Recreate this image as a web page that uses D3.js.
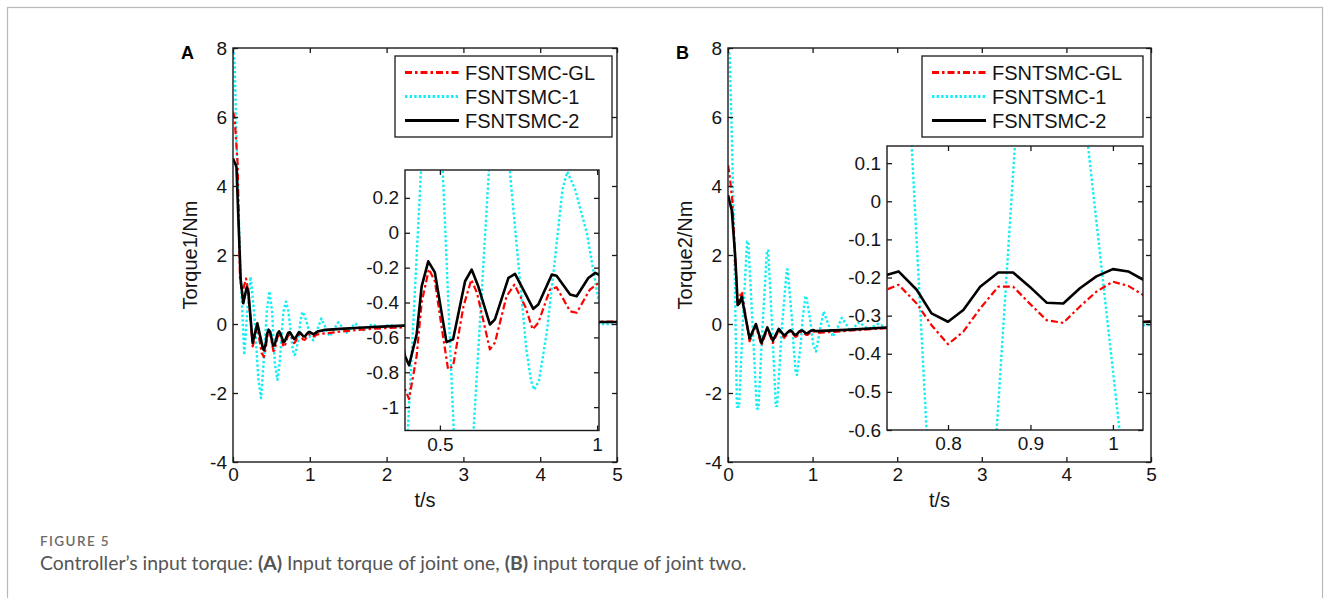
<!DOCTYPE html>
<html>
<head>
<meta charset="utf-8">
<script src="https://cdn.jsdelivr.net/npm/d3@7"></script>
<style>
  body { margin: 0; background: #fff; }
  svg { display: block; }
  text { font-family: "Liberation Sans", Arial, Helvetica, sans-serif; }
  text.caption { font-family: Lato, "Open Sans", sans-serif; }
</style>
</head>
<body>
<script>
// ---- Joint one: controller input torque (Nm) against time (s) ----
const tA_GL = [0, 0.02, 0.06, 0.09, 0.12, 0.17, 0.20, 0.256, 0.317, 0.374, 0.389, 0.402, 0.426, 0.442, 0.465, 0.484, 0.505, 0.526, 0.542, 0.575, 0.60, 0.618, 0.659, 0.675, 0.712, 0.737, 0.771, 0.795, 0.813, 0.85, 0.871, 0.914, 0.935, 0.977, 1.005, 1.05, 1.1, 1.2, 1.5, 1.8, 2.2, 3, 4, 4.8, 5];
const qA_GL = [6.15, 6.0, 4.67, 1.37, 0.9, 1.32, 0.9, -0.65, -0.1, -0.85, -0.897, -0.954, -0.707, -0.4, -0.208, -0.278, -0.535, -0.783, -0.764, -0.421, -0.269, -0.345, -0.669, -0.63, -0.364, -0.297, -0.421, -0.554, -0.516, -0.326, -0.312, -0.45, -0.459, -0.326, -0.288, -0.36, -0.3, -0.27, -0.2, -0.14, -0.1, -0.02, 0.04, 0.07, 0.07];

const tA_1 = [0, 0.02, 0.06, 0.10, 0.147, 0.19, 0.23, 0.28, 0.33, 0.365, 0.398, 0.44, 0.474, 0.509, 0.544, 0.578, 0.607, 0.656, 0.69, 0.722, 0.775, 0.79, 0.80, 0.815, 0.84, 0.866, 0.89, 0.905, 0.93, 0.967, 1.005, 1.047, 1.10, 1.15, 1.26, 1.37, 1.48, 1.59, 1.70, 1.81, 1.92, 2.03, 2.14, 2.3, 3, 4, 4.8, 5];
const qA_1 = [8.0, 7.6, 4.2, 1.4, -0.9, 0.5, 1.37, 0.2, -1.6, -2.15, -1.134, 0.36, 0.95, 0.36, -1.134, -1.62, -1.134, 0.36, 0.65, 0.36, -0.67, -0.85, -0.9, -0.85, -0.57, -0.15, 0.25, 0.35, 0.25, 0.0, -0.39, -0.47, -0.15, 0.16, -0.36, 0.05, -0.25, 0.02, -0.18, 0.0, -0.12, -0.02, -0.08, -0.04, 0.0, 0.0, 0.0, 0.0];

const tA_2 = [0, 0.045, 0.10, 0.134, 0.178, 0.20, 0.256, 0.317, 0.389, 0.402, 0.426, 0.442, 0.463, 0.484, 0.521, 0.542, 0.580, 0.601, 0.622, 0.659, 0.675, 0.718, 0.739, 0.797, 0.813, 0.856, 0.871, 0.914, 0.935, 0.972, 0.994, 1.005, 1.05, 1.10, 1.2, 1.4, 1.7, 2.0, 2.3, 3, 4, 4.8, 5];
const qA_2 = [4.8, 4.56, 1.28, 0.6, 1.06, 0.94, -0.55, 0.02, -0.707, -0.76, -0.583, -0.307, -0.164, -0.227, -0.627, -0.611, -0.278, -0.211, -0.307, -0.526, -0.497, -0.259, -0.236, -0.436, -0.411, -0.24, -0.246, -0.354, -0.364, -0.259, -0.23, -0.24, -0.3, -0.22, -0.17, -0.14, -0.1, -0.07, -0.04, 0.0, 0.04, 0.06, 0.06];

// ---- Joint two ----
const tB_GL = [0, 0.02, 0.05, 0.083, 0.10, 0.115, 0.13, 0.155, 0.165, 0.255, 0.33, 0.395, 0.465, 0.53, 0.60, 0.665, 0.7264, 0.740, 0.762, 0.780, 0.800, 0.8186, 0.839, 0.861, 0.879, 0.899, 0.9196, 0.9398, 0.96, 0.980, 1.0, 1.0186, 1.037, 1.1, 1.4, 1.88, 3, 4.9, 5];
const qB_GL = [4.6, 4.3, 3.6, 2.0, 1.2, 0.55, 0.6, 0.94, 0.9, -0.5, -0.05, -0.62, -0.15, -0.55, -0.18, -0.4, -0.231, -0.219, -0.268, -0.325, -0.375, -0.342, -0.281, -0.224, -0.224, -0.268, -0.312, -0.319, -0.276, -0.237, -0.211, -0.222, -0.246, -0.25, -0.2, -0.12, -0.03, 0.06, 0.07];

const tB_1 = [0, 0.02, 0.05, 0.08, 0.105, 0.13, 0.18, 0.225, 0.24, 0.29, 0.34, 0.36, 0.41, 0.46, 0.475, 0.52, 0.565, 0.58, 0.64, 0.695, 0.705, 0.756, 0.774, 0.80, 0.815, 0.859, 0.881, 0.915, 0.925, 0.970, 1.008, 1.04, 1.085, 1.13, 1.185, 1.24, 1.295, 1.345, 1.45, 1.55, 1.66, 1.77, 1.88, 2.5, 3.5, 4.8, 5];
const qB_1 = [8.0, 7.8, 5.0, 1.5, -2.4, -2.4, 0.3, 2.39, 2.39, 0.0, -2.45, -2.45, 0.0, 2.13, 2.13, 0.0, -2.38, -2.38, 0.0, 1.58, 1.58, 0.142, -0.6, -1.4, -1.48, -0.6, 0.142, 0.81, 0.81, 0.142, -0.6, -0.8, -0.2, 0.36, 0.0, -0.37, -0.1, 0.18, -0.2, 0.05, -0.15, 0.0, -0.1, -0.03, -0.03, -0.03, -0.03];

const tB_2 = [0, 0.044, 0.083, 0.10, 0.114, 0.135, 0.162, 0.255, 0.33, 0.395, 0.465, 0.53, 0.60, 0.665, 0.7264, 0.740, 0.762, 0.780, 0.800, 0.8186, 0.839, 0.861, 0.879, 0.899, 0.9196, 0.9398, 0.96, 0.980, 1.0, 1.0186, 1.037, 1.1, 1.4, 1.88, 3, 4.9, 5];
const qB_2 = [3.74, 3.3, 2.05, 1.28, 0.55, 0.6, 0.79, -0.42, 0.0, -0.55, -0.1, -0.48, -0.14, -0.34, -0.193, -0.184, -0.232, -0.294, -0.316, -0.285, -0.224, -0.187, -0.187, -0.224, -0.266, -0.268, -0.228, -0.197, -0.178, -0.184, -0.206, -0.2, -0.17, -0.1, -0.02, 0.06, 0.07];

// Series names and axis ticks
const seriesNames = ["FSNTSMC-GL", "FSNTSMC-1", "FSNTSMC-2"];
const mainXTicks = [0, 1, 2, 3, 4, 5];
const mainYTicks = [-4, -2, 0, 2, 4, 6, 8];
const insetAXTicks = [0.5, 1];
const insetAYTicks = [-1, -0.8, -0.6, -0.4, -0.2, 0, 0.2];
const insetBXTicks = [0.8, 0.9, 1];
const insetBYTicks = [-0.6, -0.5, -0.4, -0.3, -0.2, -0.1, 0, 0.1];

// Axis limits
const mainXDomain = [0, 5];
const mainYDomain = [-4, 8];
const insetAXDomain = [0.389, 1.006];
const insetAYDomain = [-1.134, 0.36];
const insetBXDomain = [0.726, 1.0365];
const insetBYDomain = [-0.6, 0.145];

// ---- Styles ----
const seriesStyle = [
  { color: "#ff0000", width: 2.2, dash: "7,3,2.5,3" },
  { color: "#12eef4", width: 2.4, dash: "2.4,2.2" },
  { color: "#000000", width: 2.6, dash: null }
];

const W = 1330, H = 598;
const svg = d3.select("body").append("svg").attr("width", W).attr("height", H);

// outer figure frame
svg.append("rect").attr("x", 7.5).attr("y", 7.5).attr("width", W - 15).attr("height", H + 20)
  .attr("fill", "none").attr("stroke", "#b9b9b9").attr("stroke-width", 1.2);

const fmt = d => String(d);
let clipId = 0;

function plotArea(g, box, xDom, yDom, data) {
  const x = d3.scaleLinear().domain(xDom).range([box.x0, box.x1]);
  const y = d3.scaleLinear().domain(yDom).range([box.y1, box.y0]);
  const id = "clip" + (clipId++);
  g.append("clipPath").attr("id", id).append("rect")
    .attr("x", box.x0).attr("y", box.y0).attr("width", box.x1 - box.x0).attr("height", box.y1 - box.y0);
  g.append("rect").attr("x", box.x0).attr("y", box.y0).attr("width", box.x1 - box.x0).attr("height", box.y1 - box.y0)
    .attr("fill", "#fff");
  const line = d3.line().x(d => x(d[0])).y(d => y(d[1]));
  const lines = g.append("g").attr("clip-path", `url(#${id})`);
  // cyan first, then red, then black on top
  [1, 0, 2].forEach(i => {
    const s = data[i], st = seriesStyle[i];
    lines.append("path").datum(d3.zip(s.t, s.v)).attr("d", line)
      .attr("fill", "none").attr("stroke", st.color).attr("stroke-width", st.width)
      .attr("stroke-dasharray", st.dash).attr("stroke-linejoin", "round");
  });
  return { x, y };
}

function frame(g, x, y, xt, yt, fontSize, padX, padY) {
  const [x0, x1] = x.range();
  const [y1, y0] = y.range();
  const tk = 5;
  const axes = [
    g.append("g").attr("transform", `translate(0,${y1})`)
      .call(d3.axisBottom(x).tickValues(xt).tickSize(-tk).tickSizeOuter(0).tickPadding(padX).tickFormat(fmt)),
    g.append("g").attr("transform", `translate(0,${y0})`)
      .call(d3.axisTop(x).tickValues(xt).tickSize(-tk).tickSizeOuter(0).tickFormat(() => "")),
    g.append("g").attr("transform", `translate(${x0},0)`)
      .call(d3.axisLeft(y).tickValues(yt).tickSize(-tk).tickSizeOuter(0).tickPadding(padY).tickFormat(fmt)),
    g.append("g").attr("transform", `translate(${x1},0)`)
      .call(d3.axisRight(y).tickValues(yt).tickSize(-tk).tickSizeOuter(0).tickFormat(() => ""))
  ];
  axes.forEach(a => {
    a.select(".domain").remove();
    a.attr("font-family", null).attr("font-size", fontSize);
    a.selectAll("line").attr("stroke", "#1a1a1a").attr("stroke-width", 1.3);
    a.selectAll("text").attr("fill", "#141414");
  });
  g.append("rect").attr("x", x0).attr("y", y0).attr("width", x1 - x0).attr("height", y1 - y0)
    .attr("fill", "none").attr("stroke", "#1a1a1a").attr("stroke-width", 1.4);
}

const panels = [
  {
    letter: "A", yLabel: "Torque1/Nm",
    box: { x0: 233, x1: 617, y0: 48, y1: 462 },
    data: [{ t: tA_GL, v: qA_GL }, { t: tA_1, v: qA_1 }, { t: tA_2, v: qA_2 }],
    inset: { box: { x0: 405, x1: 599, y0: 170, y1: 430.5 }, xDom: insetAXDomain, yDom: insetAYDomain, xt: insetAXTicks, yt: insetAYTicks },
    legend: { x: 395, y: 56, w: 217, h: 81 },
    letterPos: [181, 58.5]
  },
  {
    letter: "B", yLabel: "Torque2/Nm",
    box: { x0: 728, x1: 1151, y0: 48, y1: 462 },
    data: [{ t: tB_GL, v: qB_GL }, { t: tB_1, v: qB_1 }, { t: tB_2, v: qB_2 }],
    inset: { box: { x0: 887, x1: 1143, y0: 146, y1: 430 }, xDom: insetBXDomain, yDom: insetBYDomain, xt: insetBXTicks, yt: insetBYTicks },
    legend: { x: 922, y: 56, w: 221, h: 81 },
    letterPos: [676, 58.5]
  }
];

panels.forEach(p => {
  const g = svg.append("g");
  const main = plotArea(g, p.box, mainXDomain, mainYDomain, p.data);
  frame(g, main.x, main.y, mainXTicks, mainYTicks, 19, 6, 6);

  // axis titles
  g.append("text").attr("x", (p.box.x0 + p.box.x1) / 2).attr("y", 507)
    .attr("text-anchor", "middle").attr("font-size", 20).attr("fill", "#141414").text("t/s");
  const cy = (p.box.y0 + p.box.y1) / 2;
  g.append("text").attr("transform", `translate(${p.box.x0 - 36},${cy}) rotate(-90)`)
    .attr("text-anchor", "middle").attr("font-size", 20).attr("fill", "#141414").text(p.yLabel);

  // panel letter
  g.append("text").attr("x", p.letterPos[0]).attr("y", p.letterPos[1])
    .attr("font-size", 18).attr("font-weight", "bold").attr("fill", "#000").text(p.letter);

  // legend
  const L = p.legend;
  const lg = g.append("g");
  lg.append("rect").attr("x", L.x).attr("y", L.y).attr("width", L.w).attr("height", L.h)
    .attr("fill", "#fff").attr("stroke", "#1a1a1a").attr("stroke-width", 1.3);
  seriesNames.forEach((name, i) => {
    const yy = L.y + 16.5 + i * 24;
    const st = seriesStyle[i];
    lg.append("line").attr("x1", L.x + 10).attr("x2", L.x + 64).attr("y1", yy).attr("y2", yy)
      .attr("stroke", st.color).attr("stroke-width", st.width + 0.6).attr("stroke-dasharray", st.dash);
    lg.append("text").attr("x", L.x + 70).attr("y", yy).attr("dy", "0.36em")
      .attr("font-size", 20).attr("fill", "#141414").text(name);
  });

  // zoomed inset
  const ig = g.append("g");
  const ins = plotArea(ig, p.inset.box, p.inset.xDom, p.inset.yDom, p.data);
  frame(ig, ins.x, ins.y, p.inset.xt, p.inset.yt, 19, 7, 6);
});

// caption
svg.append("text").attr("class", "caption").attr("x", 40).attr("y", 546)
  .attr("font-size", 13.5).attr("font-weight", 600).attr("letter-spacing", 1.4).attr("fill", "#6a6a6a").text("FIGURE 5");
const cap = svg.append("text").attr("class", "caption").attr("x", 40).attr("y", 570)
  .attr("font-size", 19.4).attr("fill", "#555");
cap.append("tspan").text("Controller\u2019s input torque: ");
cap.append("tspan").attr("font-weight", "bold").text("(A)");
cap.append("tspan").text(" Input torque of joint one, ");
cap.append("tspan").attr("font-weight", "bold").text("(B)");
cap.append("tspan").text(" input torque of joint two.");
</script>
</body>
</html>
